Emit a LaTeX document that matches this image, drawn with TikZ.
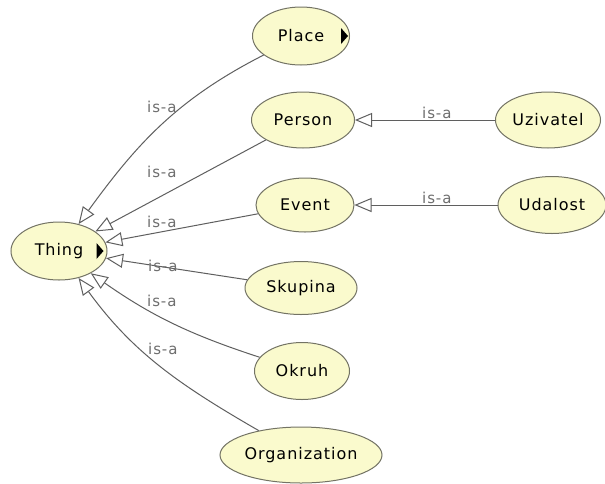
\documentclass[tikz,border=0pt]{standalone}
\usepackage{fontspec}
\newfontfamily\nodefont[LetterSpace=6]{DejaVu Sans}
\usetikzlibrary{arrows.meta,shapes.geometric}
\definecolor{classfill}{RGB}{250,250,205}
\definecolor{classline}{RGB}{115,115,100}
\definecolor{edgegray}{RGB}{95,95,95}
\definecolor{labelgray}{RGB}{110,110,110}
\begin{document}
\begin{tikzpicture}[x=1pt,y=1pt,
  cls/.style={ellipse, draw=classline, line width=1pt, fill=classfill,
    inner sep=0pt, font=\nodefont\fontsize{16}{18}\selectfont, text=black},
  isa/.style={draw=edgegray, line width=1pt,
    -{Triangle[open, length=17pt, width=14pt, fill=white]}},
  isalabel/.style={anchor=base west, inner sep=0pt,
    font=\nodefont\fontsize{15}{17}\selectfont, text=labelgray}]
  \useasboundingbox[fill=white] (0,0) rectangle (605,-483);

  % classes
  \node[cls, minimum width=96pt,  minimum height=58pt] (thing) at (59,-251) {Thing};
  \node[cls, minimum width=97pt,  minimum height=58pt] (place) at (301,-36) {Place};
  \node[cls, minimum width=103pt, minimum height=56pt] (person) at (303,-120) {Person};
  \node[cls, minimum width=105pt, minimum height=56pt] (uziv) at (548,-120) {Uzivatel};
  \node[cls, minimum width=98pt,  minimum height=54pt] (event) at (305,-205) {Event};
  \node[cls, minimum width=108pt, minimum height=57pt] (udal) at (552,-205) {Udalost};
  \node[cls, minimum width=112pt, minimum height=53pt] (skup) at (301,-288) {Skupina};
  \node[cls, minimum width=95pt,  minimum height=57pt] (okruh) at (302,-371) {Okruh};
  \node[cls, minimum width=162pt, minimum height=56pt] (org) at (301,-455) {Organization};

  % collapsed-subclass markers
  \fill[black] (thing.east) ++(-11,8) -- ++(7,-8) -- ++(-7,-8) -- cycle;
  \fill[black] (place.east) ++(-9,8) -- ++(7,-8) -- ++(-7,-8) -- cycle;

  % is-a relations
  \draw[isa] (place) to[out=207, in=54] (thing);
  \draw[isa] (person) -- (thing);
  \draw[isa] (event) -- (thing);
  \draw[isa] (skup) -- (thing);
  \draw[isa] (okruh) to[out=162, in=-35] (thing);
  \draw[isa] (org) to[out=150, in=-54] (thing);
  \draw[isa] (uziv) -- (person);
  \draw[isa] (udal) -- (event);

  % relation labels
  \node[isalabel] (l1) at (147,-112) {is-a};
  \node[isalabel] (l2) at (147,-177) {is-a};
  \node[isalabel] (l3) at (147,-227) {is-a};
  \node[isalabel] (l4) at (148,-271) {is-a};
  \node[isalabel] (l5) at (147,-306) {is-a};
  \node[isalabel] (l6) at (148,-354) {is-a};
  \node[isalabel] (l7) at (422,-118) {is-a};
  \node[isalabel] (l8) at (422,-203) {is-a};
\end{tikzpicture}
\end{document}
